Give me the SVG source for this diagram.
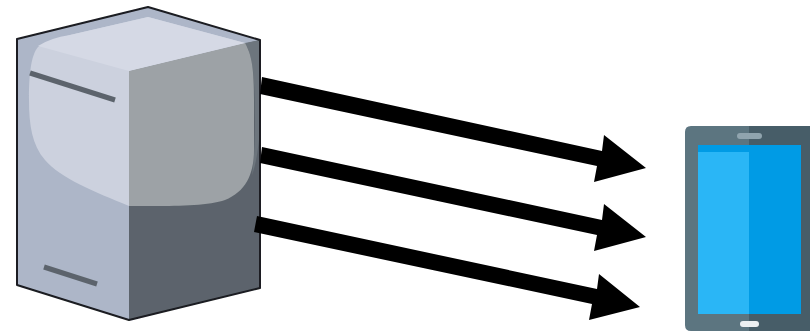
<svg xmlns="http://www.w3.org/2000/svg" width="810" height="331" viewBox="0 0 810 331">
<defs>
<filter id="soft" x="-5%" y="-5%" width="110%" height="110%"><feGaussianBlur stdDeviation="0.7"/></filter>
</defs>
<rect width="810" height="331" fill="#fff"/>
<g id="server" filter="url(#soft)">
<polygon points="17,39 148,7 260,40 260,288 129,320 17,285" fill="#adb6c8"/>
<polygon points="129,71 260,40 260,288 129,320" fill="#5c646c"/>
<path d="M245,43 L260,40 L260,130 C258,150 256,165 252,175 C254,160 255,145 255,120 C255,80 253,55 245,43 Z" fill="#6d757d"/>
<path d="M129,71 L129,206 C95,192 60,178 45,160 C32,145 29,125 29,100 C29,75 31,55 38,47 C45,42 60,38 70,35 L148,17 L245,43 Z" fill="#ccd1de"/>
<path d="M129,71 L245,43 C252,55 254,70 254,100 L254,150 C254,175 245,192 225,200 C205,207 165,206 129,206 Z" fill="#9da2a6"/>
<path d="M38,46 Q50,38 70,35 L148,17 L245,43 L129,71 Z" fill="#d5d9e5"/>
<line x1="30" y1="73" x2="115" y2="100" stroke="#5c646c" stroke-width="5"/>
<line x1="44" y1="267" x2="97" y2="284" stroke="#5c646c" stroke-width="5"/>
<polygon points="17,39 148,7 260,40 260,288 129,320 17,285" fill="none" stroke="#1a1c20" stroke-width="2" stroke-linejoin="round"/>
</g>
<g id="phone" filter="url(#soft)">
<path d="M749,126 H691 Q685,126 685,132 V325 Q685,331 691,331 H749 Z" fill="#5b7480"/>
<path d="M749,126 H810 V331 H749 Z" fill="#475d67"/>
<rect x="698" y="145" width="103" height="169" fill="#039be5"/>
<rect x="698" y="152" width="51" height="162" fill="#29b6f6"/>
<rect x="737" y="133" width="25" height="6" rx="3" fill="#90a4ae"/>
<rect x="740" y="321" width="19" height="6" rx="3" fill="#eceff1"/>
</g>
<g id="connectors" fill="#000">
<polygon points="262,77 602,151 604,135 646,168 594,182 597,166 260,94"/>
<polygon points="262,147 602,220 604,204 646,237 594,251 597,235 260,163"/>
<polygon points="257,216 597,289 599,274 640,307 589,320 592,304 254,232"/>
</g>
</svg>
